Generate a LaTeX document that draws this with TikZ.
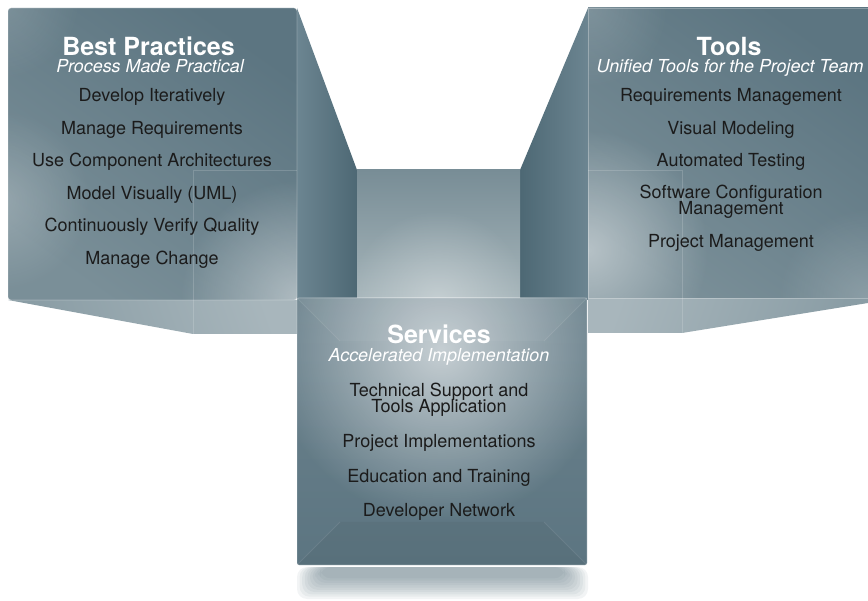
\documentclass[tikz,border=0pt]{standalone}
\usepackage{fontspec}
\setmainfont{TeX Gyre Heros}
\usetikzlibrary{fadings}
\definecolor{faceTop}{HTML}{5C7581}
\definecolor{faceBot}{HTML}{7A8F98}
\definecolor{sideLight}{HTML}{6C8591}
\definecolor{sideDark}{HTML}{4D6874}
\definecolor{backTop}{HTML}{788D96}
\definecolor{backBot}{HTML}{A6B5BA}
\definecolor{floorA}{HTML}{8A9DA5}
\definecolor{floorB}{HTML}{A8B6BC}
\definecolor{shadowC}{HTML}{5F7782}
\definecolor{itemC}{HTML}{1B1B1B}
\tikzfading[name=glow, inner color=transparent!0, outer color=transparent!100]
\tikzset{
  front/.style={top color=faceTop, bottom color=faceBot, shading angle=-35},
  edgeline/.style={draw=white, draw opacity=0.28, line width=0.8pt},
  ghost/.style={draw=white, draw opacity=0.16, line width=0.8pt},
  bevel/.style={draw=white, draw opacity=0.09, line width=0.8pt},
  title/.style={font=\bfseries\fontsize{25}{25}\selectfont, text=white, anchor=base, inner sep=0pt, text depth=0pt},
  subtitle/.style={font=\itshape\fontsize{17.9}{17.9}\selectfont, text=white, anchor=base, inner sep=0pt, text height=11pt},
  item/.style={font=\fontsize{18}{18}\selectfont, text=itemC, anchor=base, inner sep=0pt},
  itemup/.style={item, text depth=0pt},
  itemlow/.style={item, text height=11pt},
}
\begin{document}
\begin{tikzpicture}[x=1pt,y=-1pt]
\useasboundingbox (0,0) rectangle (868,601);
% ---------- inner faces ----------
\shade[left color=sideLight, right color=sideDark] (297,8) -- (357,170) -- (357,300) -- (297,300) -- cycle;
\shade[left color=sideDark, right color=sideLight] (588,8) -- (520,170) -- (520,300) -- (588,300) -- cycle;
\shade[top color=backTop, bottom color=backBot] (357,170) rectangle (520,299);
\begin{scope}
\clip (357,170) rectangle (520,299);
\fill[white, path fading=glow, fill opacity=0.35] (438,300) circle (90);
\end{scope}
% ---------- floor faces ----------
\shade[top color=floorB, bottom color=floorA, shading angle=-70] (8,300) -- (297,300) -- (297,334) -- (193,334) -- cycle;
\draw[ghost] (193,300) -- (193,334);
\shade[top color=floorB, bottom color=floorA, shading angle=70] (588,298) -- (868,298) -- (868,303) -- (682,333) -- (588,333) -- cycle;
\draw[ghost] (682,298) -- (682,333);
% ---------- left front face ----------
\shade[front, rounded corners=3pt] (8,8) rectangle (297,300);
\begin{scope}
\clip[rounded corners=3pt] (8,8) rectangle (297,300);
\fill[white, path fading=glow, fill opacity=0.45] (300,300) circle (120);
\fill[white, path fading=glow, fill opacity=0.22] (0,200) circle (90);
\fill[white, path fading=glow, fill opacity=0.15] (0,0) circle (80);
\end{scope}
\draw[ghost] (193,170) -- (193,300) (193,170) -- (297,170);
\draw[edgeline, rounded corners=3pt] (8,8) rectangle (297,300);
% ---------- right front face ----------
\shade[front] (588,8) rectangle (868,298);
\begin{scope}
\clip (588,8) rectangle (868,298);
\fill[white, path fading=glow, fill opacity=0.45] (588,250) circle (120);
\fill[white, path fading=glow, fill opacity=0.2] (868,298) circle (90);
\fill[white, path fading=glow, fill opacity=0.15] (588,8) circle (80);
\end{scope}
\draw[ghost] (682,170) -- (682,298) (588,170) -- (682,170);
\draw[edgeline] (868,8) -- (588,8) -- (588,298) -- (868,298);
% ---------- shadow ----------
\foreach \i in {0,...,9}
  \fill[shadowC, opacity=0.08, rounded corners=10pt] (297+\i*2.6,567) rectangle (588-\i*2.6,599-\i*2.3);
% ---------- services front face ----------
\shade[top color=faceTop!90!white, bottom color=faceTop, rounded corners=2pt] (297,298) rectangle (587,565);
\begin{scope}
\clip (297,298) rectangle (587,565);
\fill[white, path fading=glow, fill opacity=0.62] (441,350) circle (170);
\fill[black, opacity=0.04] (297,565) -- (340,522) -- (544,522) -- (587,565) -- cycle;
\fill[white, opacity=0.04] (297,298) -- (340,341) -- (544,341) -- (587,298) -- cycle;
\end{scope}
\draw[bevel] (297,298) -- (340,341) (587,298) -- (544,341) (297,565) -- (340,522) (587,565) -- (544,522);
\draw[edgeline, rounded corners=2pt] (297,298) rectangle (587,565);
% ---------- texts: Best Practices ----------
\node[title] (bpT) at (148.5,56) {Best Practices};
\node[subtitle] (bpS) at (150,72.5) {Process Made Practical};
\node[item] (bp1) at (152,102) {Develop Iteratively};
\node[item] (bp2) at (152,134.5) {Manage Requirements};
\node[item] (bp3) at (152,167) {Use Component Architectures};
\node[item] (bp4) at (152,199.5) {Model Visually (UML)};
\node[item] (bp5) at (152,232) {Continuously Verify Quality};
\node[item] (bp6) at (152,264.5) {Manage Change};
% ---------- texts: Tools ----------
\node[title] (tT) at (729,56) {Tools};
\node[subtitle] (tS) at (730,72.5) {Unified Tools for the Project Team};
\node[item] (t1) at (731,102) {Requirements Management};
\node[item] (t2) at (731,134.5) {Visual Modeling};
\node[item] (t3) at (731,167) {Automated Testing};
\node[itemup] (t4) at (731,199) {Software Configuration};
\node[itemlow] (t4b) at (731,215) {Management};
\node[item] (t5) at (731,247.5) {Project Management};
% ---------- texts: Services ----------
\node[title] (sT) at (439,344) {Services};
\node[subtitle] (sS) at (439,361.5) {Accelerated Implementation};
\node[itemup] (s1) at (439,397) {Technical Support and};
\node[itemlow] (s1b) at (439,413) {Tools Application};
\node[item] (s2) at (439,448) {Project Implementations};
\node[item] (s3) at (439,483) {Education and Training};
\node[item] (s4) at (439,517) {Developer Network};
\end{tikzpicture}
\end{document}
